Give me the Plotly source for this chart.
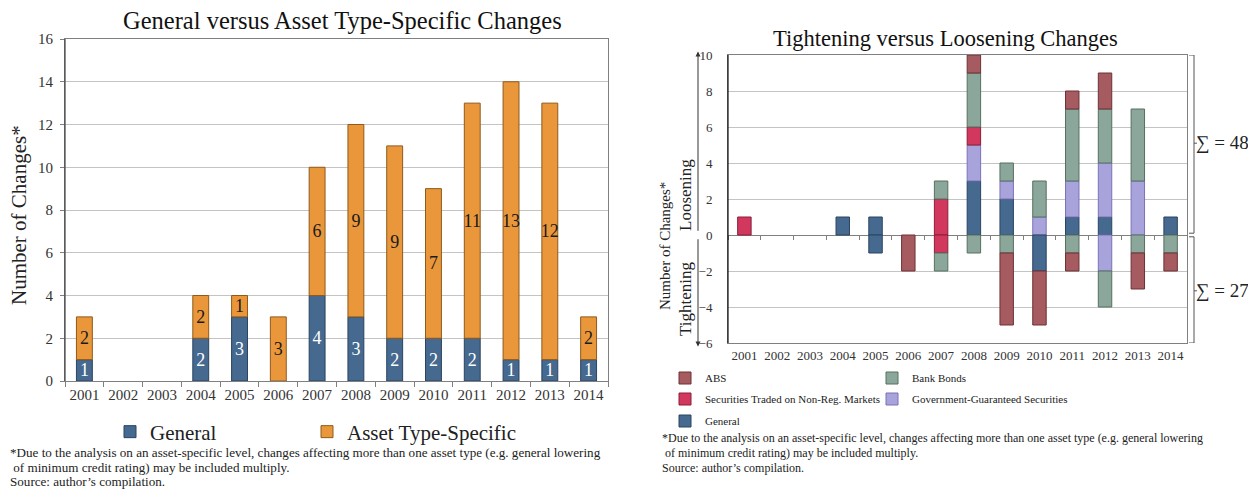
import plotly.graph_objects as go

# ---------------- data ----------------
years = ["2001", "2002", "2003", "2004", "2005", "2006", "2007",
         "2008", "2009", "2010", "2011", "2012", "2013", "2014"]

# left chart
general_changes = [1, 0, 0, 2, 3, 0, 4, 3, 2, 2, 2, 1, 1, 1]
asset_specific_changes = [2, 0, 0, 2, 1, 3, 6, 9, 9, 7, 11, 13, 12, 2]

# right chart: loosening (positive) and tightening (negative)
loosen_general = [0, 0, 0, 1, 1, 0, 0, 3, 2, 0, 1, 1, 0, 1]
loosen_gov = [0, 0, 0, 0, 0, 0, 0, 2, 1, 1, 2, 3, 3, 0]
loosen_sec = [1, 0, 0, 0, 0, 0, 2, 1, 0, 0, 0, 0, 0, 0]
loosen_bank = [0, 0, 0, 0, 0, 0, 1, 3, 1, 2, 4, 3, 4, 0]
loosen_abs = [0, 0, 0, 0, 0, 0, 0, 1, 0, 0, 1, 2, 0, 0]

tighten_general = [0, 0, 0, 0, -1, 0, 0, 0, 0, -2, 0, 0, 0, 0]
tighten_gov = [0, 0, 0, 0, 0, 0, 0, 0, 0, 0, 0, -2, 0, 0]
tighten_sec = [0, 0, 0, 0, 0, 0, -1, 0, 0, 0, 0, 0, 0, 0]
tighten_bank = [0, 0, 0, 0, 0, 0, -1, -1, -1, 0, -1, -2, -1, -1]
tighten_abs = [0, 0, 0, 0, 0, -2, 0, 0, -4, -3, -1, 0, -2, -1]

left_yticks = [0, 2, 4, 6, 8, 10, 12, 14, 16]
right_yticks = [-6, -4, -2, 0, 2, 4, 6, 8, 10]

# ---------------- styles ----------------
FONT = "Liberation Serif"
OFF = 8                      # default page margin around the plot div
W, H = 1256 - OFF, 491 - OFF
C_GEN, C_GEN_L = "#46698F", "#2A4461"
C_ASSET, C_ASSET_L = "#E9973A", "#8F5A1C"
C_ABS, C_ABS_L = "#A65B60", "#6B3236"
C_BANK, C_BANK_L = "#8BA69A", "#56705F"
C_SEC, C_SEC_L = "#D2385E", "#8A1E3A"
C_GOV, C_GOV_L = "#A9A3DC", "#7A72B8"


def px_x(p):
    return (p - OFF) / W


def px_y(p):
    return 1 - (p - OFF) / H


def nz(vals):
    return [v if v != 0 else None for v in vals]


def lbl(vals):
    return [str(v) if v != 0 else "" for v in vals]


fig = go.Figure()

# ---------------- left chart ----------------
fig.add_trace(go.Bar(
    x=years, y=nz(general_changes), name="General", xaxis="x", yaxis="y",
    marker=dict(color=C_GEN, line=dict(color=C_GEN_L, width=1)),
    text=lbl(general_changes), textposition="inside", insidetextanchor="middle",
    textangle=0, constraintext="none",
    insidetextfont=dict(family=FONT, size=18, color="white"),
    legend="legend", hoverinfo="skip"))
fig.add_trace(go.Bar(
    x=years, y=nz(asset_specific_changes), name="Asset Type-Specific", xaxis="x", yaxis="y",
    marker=dict(color=C_ASSET, line=dict(color=C_ASSET_L, width=1)),
    text=lbl(asset_specific_changes), textposition="inside", insidetextanchor="middle",
    textangle=0, constraintext="none",
    insidetextfont=dict(family=FONT, size=18, color="#1a1a1a"),
    legend="legend5", hoverinfo="skip"))

# ---------------- right chart ----------------
right_series = [
    ("General", loosen_general, tighten_general, C_GEN, C_GEN_L, "legend7"),
    ("Government-Guaranteed Securities", loosen_gov, tighten_gov, C_GOV, C_GOV_L, "legend6"),
    ("Securities Traded on Non-Reg. Markets", loosen_sec, tighten_sec, C_SEC, C_SEC_L, "legend4"),
    ("Bank Bonds", loosen_bank, tighten_bank, C_BANK, C_BANK_L, "legend3"),
    ("ABS", loosen_abs, tighten_abs, C_ABS, C_ABS_L, "legend2"),
]
for name, pos, neg, col, lcol, leg in right_series:
    fig.add_trace(go.Bar(
        x=years, y=nz(pos), name=name, xaxis="x2", yaxis="y2",
        marker=dict(color=col, line=dict(color=lcol, width=1)),
        legend=leg, legendgroup=name, hoverinfo="skip"))
for name, pos, neg, col, lcol, leg in right_series:
    fig.add_trace(go.Bar(
        x=years, y=nz(neg), name=name, xaxis="x2", yaxis="y2",
        marker=dict(color=col, line=dict(color=lcol, width=1)),
        legend=leg, legendgroup=name, showlegend=False, hoverinfo="skip"))

# invisible trace for the zero-line tick axis
fig.add_trace(go.Scatter(x=years, y=[0] * len(years), xaxis="x3", yaxis="y2",
                         mode="markers", marker=dict(opacity=0), showlegend=False,
                         hoverinfo="skip"))

y2_dom = [px_y(343), px_y(55)]
y2_rng = [right_yticks[0], right_yticks[-1]]
zero_pos = y2_dom[0] + (0 - y2_rng[0]) / (y2_rng[1] - y2_rng[0]) * (y2_dom[1] - y2_dom[0])

tickfont_l = dict(family=FONT, size=15, color="#333333")
tickfont_r = dict(family=FONT, size=13, color="#333333")


def leg(xp, yp, size):
    return dict(orientation="h", x=px_x(xp), y=px_y(yp), xanchor="left", yanchor="middle",
                font=dict(family=FONT, size=size, color="#222222"),
                bgcolor="rgba(0,0,0,0)", itemwidth=30)


fig.update_layout(
    width=W, height=H, margin=dict(l=0, r=0, t=0, b=0, autoexpand=False),
    paper_bgcolor="white", plot_bgcolor="white",
    barmode="relative", bargap=0.59,
    font=dict(family=FONT, color="#222222"),
    xaxis=dict(domain=[px_x(65), px_x(608)], anchor="y", type="category",
               categoryorder="array", categoryarray=years,
               showline=True, linecolor="#808080", linewidth=1, mirror=True,
               ticks="outside", tickson="boundaries", ticklen=5, tickcolor="#808080",
               tickfont=tickfont_l, tickangle=0, showgrid=False),
    yaxis=dict(domain=[px_y(381), px_y(39)], anchor="x", range=[0, 16],
               tickvals=left_yticks, showline=True, linecolor="#808080", mirror=True,
               ticks="outside", ticklen=4, tickcolor="#808080",
               showgrid=True, gridcolor="#C4C4C4", gridwidth=1, zeroline=False,
               tickfont=tickfont_l, ticklabelstandoff=4),
    xaxis2=dict(domain=[px_x(728), px_x(1187)], anchor="y2", type="category",
                categoryorder="array", categoryarray=years,
                showline=True, linecolor="#808080", linewidth=1, mirror=True,
                ticks="", tickfont=tickfont_r, tickangle=0, showgrid=False),
    xaxis3=dict(domain=[px_x(728), px_x(1187)], overlaying="x2", anchor="free",
                position=zero_pos, type="category", categoryorder="array",
                categoryarray=years, range=[-0.5, len(years) - 0.5],
                showline=False, ticks="outside", tickson="boundaries", ticklen=4,
                tickcolor="#808080", showticklabels=False, showgrid=False, zeroline=False),
    yaxis2=dict(domain=y2_dom, anchor="x2", range=y2_rng, tickvals=right_yticks,
                showline=True, linecolor="#808080", mirror=True, ticks="",
                showgrid=True, gridcolor="#C4C4C4", gridwidth=1,
                zeroline=True, zerolinecolor="#808080", zerolinewidth=1,
                tickfont=tickfont_r, ticklabelstandoff=12),
    legend=leg(110, 432, 21),
    legend5=leg(307, 432, 21),
    legend2=leg(665, 378, 11),
    legend3=leg(872, 378, 11),
    legend4=leg(665, 399, 11),
    legend6=leg(872, 399, 11),
    legend7=leg(665, 421, 11),
)

# black left axis line of the right chart
fig.add_shape(type="line", xref="paper", yref="y2", x0=px_x(728), x1=px_x(728),
              y0=y2_rng[0], y1=y2_rng[1], line=dict(color="#111111", width=1.2))
# darker left axis line of the left chart
fig.add_shape(type="line", xref="paper", yref="y", x0=px_x(65), x1=px_x(65),
              y0=0, y1=16, line=dict(color="#444444", width=1.2))

# brackets with sums
pos_total = sum(sum(s[1]) for s in right_series)
neg_total = -sum(sum(s[2]) for s in right_series)
xa, xb, xc = px_x(1189), px_x(1194), px_x(1197)
for top, bot, mid, total in [(10, 0.1, 5.1, pos_total), (-0.1, -6, -3.1, neg_total)]:
    fig.add_shape(type="path", xref="paper", yref="y2",
                  path=f"M {xa},{top} L {xb},{top} L {xb},{bot} L {xa},{bot} M {xb},{mid} L {xc},{mid}",
                  line=dict(color="#555555", width=1))
    fig.add_annotation(xref="paper", yref="y2", x=px_x(1194), y=mid, xanchor="left",
                       yanchor="middle", text=f"∑ = {total}", showarrow=False,
                       font=dict(family=FONT, size=19, color="#222222"))

# double arrow beside right y axis
for head, tail in [(10.2, 0.15), (-6.2, -0.15)]:
    fig.add_annotation(xref="paper", yref="y2", x=px_x(698), y=head,
                       axref="pixel", ax=0, ayref="y2", ay=tail, text="",
                       showarrow=True, arrowhead=2, arrowsize=1, arrowwidth=1,
                       arrowcolor="#333333")

# titles
fig.add_annotation(xref="paper", yref="paper", x=px_x(342), y=px_y(20),
                   text="General versus Asset Type-Specific Changes", showarrow=False,
                   xanchor="center", yanchor="middle",
                   font=dict(family=FONT, size=24.5, color="#111111"))
fig.add_annotation(xref="paper", yref="paper", x=px_x(945), y=px_y(38),
                   text="Tightening versus Loosening Changes", showarrow=False,
                   xanchor="center", yanchor="middle",
                   font=dict(family=FONT, size=22.5, color="#111111"))

# y axis titles
fig.add_annotation(xref="paper", yref="paper", x=px_x(19), y=px_y(215),
                   text="Number of Changes*", textangle=-90, showarrow=False,
                   xanchor="center", yanchor="middle",
                   font=dict(family=FONT, size=21, color="#222222"))
fig.add_annotation(xref="paper", yref="paper", x=px_x(665), y=px_y(246),
                   text="Number of Changes*", textangle=-90, showarrow=False,
                   xanchor="center", yanchor="middle",
                   font=dict(family=FONT, size=15, color="#222222"))
fig.add_annotation(xref="paper", yref="paper", x=px_x(685), y=px_y(195),
                   text="Loosening", textangle=-90, showarrow=False,
                   xanchor="center", yanchor="middle",
                   font=dict(family=FONT, size=17, color="#222222"))
fig.add_annotation(xref="paper", yref="paper", x=px_x(685), y=px_y(299),
                   text="Tightening", textangle=-90, showarrow=False,
                   xanchor="center", yanchor="middle",
                   font=dict(family=FONT, size=17, color="#222222"))

# footnotes
note1 = "*Due to the analysis on an asset-specific level, changes affecting more than one asset type (e.g. general lowering"
note2 = "\u00a0of minimum credit rating) may be included multiply."
note3 = "Source: author\u2019s compilation."
for x0, ys, size in [(8, [452, 467, 481], 13.1), (660, [438, 453, 468], 12.0)]:
    for txt, yy in zip([note1, note2, note3], ys):
        fig.add_annotation(xref="paper", yref="paper", x=px_x(x0), y=px_y(yy),
                           text=txt, showarrow=False, xanchor="left", yanchor="middle",
                           font=dict(family=FONT, size=size, color="#222222"))

fig.write_html("out.html")
